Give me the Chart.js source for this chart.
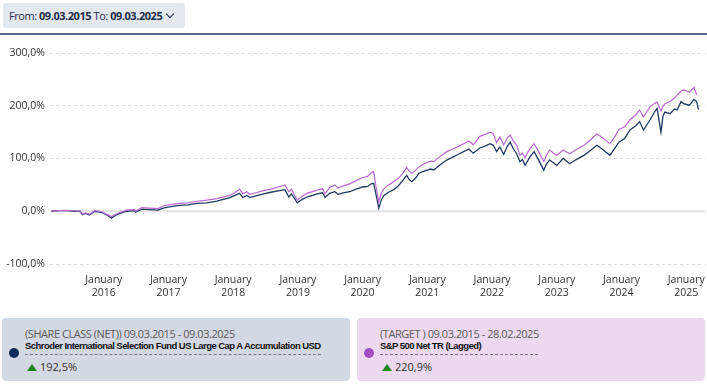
<!DOCTYPE html>
<html>
<head>
<meta charset="utf-8">
<script src="https://cdn.jsdelivr.net/npm/chart.js@4.4.0/dist/chart.umd.min.js"></script>
<style>
  body { margin: 0; width: 707px; height: 385px; overflow: hidden; background: #fff; font-family: "Open Sans", sans-serif; position: relative; }
  .range { position: absolute; left: 3px; top: 3px; width: 182px; height: 25px; background: #e3e8ef; border-radius: 3px; font-size: 11px; color: #1d2c48; line-height: 25px; padding-left: 6px; box-sizing: border-box; letter-spacing: -0.45px; }
  .range b { font-weight: 700; }
  .range .chev { position: absolute; right: 12px; top: 8px; width: 5px; height: 5px; border-right: 1.6px solid #1d2c48; border-bottom: 1.6px solid #1d2c48; transform: rotate(45deg); }
  .rule { position: absolute; left: 0; top: 33px; width: 707px; height: 1.5px; background: #5b6c8c; }
  #wrap { position: absolute; left: 0; top: 40px; width: 707px; height: 262px; }
  .card { position: absolute; top: 318px; height: 63px; border-radius: 4px; }
  .card .dot { position: absolute; left: 7px; top: 30px; width: 10px; height: 10px; border-radius: 50%; }
  .card .per { position: absolute; left: 23px; top: 8px; font-size: 11px; color: #5a5a5a; letter-spacing: -0.45px; white-space: nowrap; }
  .card .name { position: absolute; left: 23px; top: 22px; font-family: "Liberation Sans", Arial, sans-serif; font-size: 9.5px; font-weight: 700; color: #111; white-space: nowrap; letter-spacing: -0.55px; padding-bottom: 3px; border-bottom: 1px dashed #777; }
  .card .perf { position: absolute; left: 25px; top: 41px; font-size: 11px; color: #333; white-space: nowrap; }
  .card .tri { display: inline-block; width: 0; height: 0; border-left: 5px solid transparent; border-right: 5px solid transparent; border-bottom: 7px solid #1e8a1e; margin-right: 3px; vertical-align: 0px; }
</style>
</head>
<body>
<div class="range">From: <b>09.03.2015</b> To: <b>09.03.2025</b><span class="chev"></span></div>
<div class="rule"></div>
<div id="wrap"><canvas id="perfChart"></canvas></div>

<div class="card" style="left:2px;width:348px;background:#d3d9e2;">
  <span class="dot" style="background:#0f2c5c;"></span>
  <div class="per">(SHARE CLASS (NET)) 09.03.2015 - 09.03.2025</div>
  <div class="name">Schroder International Selection Fund US Large Cap A Accumulation USD</div>
  <div class="perf"><span class="tri"></span>192,5%</div>
</div>
<div class="card" style="left:357px;width:348px;background:#ecd9ef;">
  <span class="dot" style="background:#a54fc3;"></span>
  <div class="per">(TARGET ) 09.03.2015 - 28.02.2025</div>
  <div class="name" style="width:158px;">S&amp;P 500 Net TR (Lagged)</div>
  <div class="perf"><span class="tri"></span>220,9%</div>
</div>

<script>
// dates as fractional years, values are cumulative performance in %
const dates = [
  2015.19, 2015.30, 2015.43, 2015.55, 2015.63, 2015.67, 2015.72, 2015.78, 2015.86, 2015.97,
  2016.05, 2016.12, 2016.18, 2016.25, 2016.36, 2016.47, 2016.49, 2016.59, 2016.72, 2016.84,
  2016.92, 2016.99, 2017.17, 2017.30, 2017.44, 2017.59, 2017.75, 2017.95, 2018.06, 2018.10,
  2018.15, 2018.21, 2018.26, 2018.35, 2018.47, 2018.58, 2018.72, 2018.80, 2018.86, 2018.90,
  2018.95, 2018.99, 2019.06, 2019.14, 2019.30, 2019.38, 2019.42, 2019.49, 2019.57, 2019.62,
  2019.70, 2019.80, 2019.90, 2020.00, 2020.08, 2020.13, 2020.17, 2020.21, 2020.25, 2020.29,
  2020.33, 2020.40, 2020.48, 2020.55, 2020.62, 2020.68, 2020.72, 2020.76, 2020.82, 2020.87,
  2020.95, 2021.05, 2021.10, 2021.20, 2021.30, 2021.40, 2021.48, 2021.56, 2021.64, 2021.71,
  2021.81, 2021.90, 2021.97, 2022.02, 2022.07, 2022.12, 2022.18, 2022.24, 2022.28, 2022.33,
  2022.38, 2022.43, 2022.47, 2022.51, 2022.58, 2022.65, 2022.72, 2022.80, 2022.84, 2022.89,
  2022.95, 2023.00, 2023.10, 2023.20, 2023.30, 2023.42, 2023.52, 2023.62, 2023.70, 2023.82,
  2023.90, 2023.96, 2024.05, 2024.13, 2024.22, 2024.28, 2024.34, 2024.44, 2024.52, 2024.55,
  2024.61, 2024.64, 2024.67, 2024.75, 2024.82, 2024.86, 2024.92, 2024.96, 2025.05, 2025.12,
  2025.16, 2025.19
];

const fundValues = [
  0, 1, 1, 0, 0, -6, -4, -7, 0, -2,
  -7, -13, -8, -4, 0, 1, -2, 4, 3, 2,
  6, 8, 11, 12, 15, 16, 19, 26, 32, 34,
  26, 30, 26, 29, 33, 36, 39, 41, 27, 33,
  24, 16, 22, 27, 33, 35, 26, 34, 37, 32,
  35, 37, 42, 46, 47, 52, 53, 30, 6, 22,
  30, 36, 41, 48, 58, 68, 60, 56, 63, 72,
  76, 80, 78, 88, 97, 103, 108, 113, 118, 110,
  120, 124, 128, 125, 113, 122, 108, 124, 131, 118,
  109, 94, 98, 87, 102, 113, 97, 78, 90, 97,
  92, 87, 100, 90, 98, 106, 115, 125, 118, 106,
  120, 131, 138, 154, 162, 170, 154, 173, 190, 195,
  150, 180, 188, 185, 194, 192, 208, 204, 201, 212,
  208, 192.5
];

const targetValues = [
  0, 1, 1.5, 0.5, 0, -5, -3, -6, 1, -1,
  -6, -10, -6, -2, 2, 3, 0, 7, 6, 5,
  10, 12, 15, 16, 19, 21, 24, 30, 38, 42,
  33, 37, 32, 35, 39, 42, 47, 50, 37, 42,
  30, 21, 28, 34, 40, 43, 33, 45, 50, 44,
  48, 52, 58, 64, 66, 73, 75, 45, 18, 35,
  43, 50, 56, 62, 72, 83, 76, 72, 78, 84,
  90, 95, 94, 104, 113, 118, 123, 128, 133, 126,
  142, 146, 150, 147, 130, 141, 126, 140, 144, 133,
  125, 106, 110, 102, 118, 128, 113, 94, 106, 116,
  110, 106, 116, 109, 117, 125, 135, 147, 140, 128,
  142, 155, 160, 173, 183, 192, 179, 198, 205, 207,
  190, 198, 204, 208, 215, 220, 228, 230, 226, 235,
  220.9, null
];

const yearTicks = [2016, 2017, 2018, 2019, 2020, 2021, 2022, 2023, 2024, 2025];

const zeroLine = {
  id: 'zeroLine',
  beforeDatasetsDraw(chart) {
    const { ctx, chartArea, scales } = chart;
    const y = scales.y.getPixelForValue(0);
    ctx.save();
    ctx.strokeStyle = '#e2e2e2';
    ctx.lineWidth = 2;
    ctx.beginPath();
    ctx.moveTo(chartArea.left, y);
    ctx.lineTo(chartArea.right, y);
    ctx.stroke();
    ctx.restore();
  }
};

const ctx = document.getElementById('perfChart');
new Chart(ctx, {
  type: 'line',
  data: {
    labels: dates,
    datasets: [
      {
        label: 'S&P 500 Net TR (Lagged)',
        data: dates.map((d, i) => ({ x: d, y: targetValues[i] })),
        borderColor: '#b868d0',
        borderWidth: 1.2,
        pointRadius: 0,
        spanGaps: false
      },
      {
        label: 'Schroder International Selection Fund US Large Cap A Accumulation USD',
        data: dates.map((d, i) => ({ x: d, y: fundValues[i] })),
        borderColor: '#1f3b63',
        borderWidth: 1.3,
        pointRadius: 0
      }
    ]
  },
  options: {
    responsive: true,
    maintainAspectRatio: false,
    animation: false,
    layout: { padding: { top: 13, right: 2 } },
    plugins: {
      legend: { display: false },
      tooltip: { enabled: false }
    },
    scales: {
      x: {
        type: 'linear',
        min: 2015.17,
        max: 2025.29,
        afterBuildTicks: scale => { scale.ticks = yearTicks.map(v => ({ value: v })); },
        afterFit: scale => { scale.height = 38; },
        grid: { display: false },
        border: { display: false },
        ticks: {
          color: '#333',
          font: { family: 'Open Sans', size: 10.5 },
          maxRotation: 0,
          autoSkip: false,
          padding: 2,
          callback: v => ['January', String(v)]
        }
      },
      y: {
        min: -100,
        max: 300,
        afterFit: scale => { scale.width = 50; },
        border: { display: false, dash: [3, 3] },
        grid: {
          color: c => c.tick.value === 0 ? 'rgba(0,0,0,0)' : '#dcdcdc',
          lineWidth: 1,
          drawTicks: false
        },
        ticks: {
          stepSize: 100,
          color: '#333',
          padding: 5,
          font: { family: 'Open Sans', size: 10.5 },
          callback: v => v.toFixed(1).replace('.', ',') + '%'
        }
      }
    }
  },
  plugins: [zeroLine]
});
</script>
</body>
</html>
